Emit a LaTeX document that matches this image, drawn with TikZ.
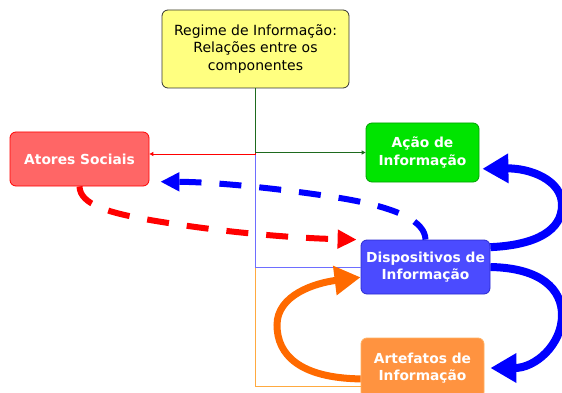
\documentclass[tikz,border=0pt]{standalone}
\usepackage{fontspec}
\setmainfont{DejaVu Sans}
\usetikzlibrary{arrows.meta}
\definecolor{regimefill}{HTML}{FFFF80}
\definecolor{atoresfill}{HTML}{FF6666}
\definecolor{acaofill}{HTML}{00E400}
\definecolor{acaoline}{HTML}{00A000}
\definecolor{dispfill}{HTML}{4B4BFF}
\definecolor{displine}{HTML}{2A2AD0}
\definecolor{artefill}{HTML}{FF9340}
\definecolor{arteline}{HTML}{FFB060}
\definecolor{greenlink}{HTML}{1E6A1E}
\definecolor{bluelink}{HTML}{6E6EFF}
\definecolor{orangelink}{HTML}{FFAA40}
\definecolor{orangearrow}{HTML}{FF6A00}
\begin{document}
\begin{tikzpicture}[x=1pt,y=-1pt,
  box/.style={rounded corners=6pt, align=center, inner sep=0pt, line width=0.8pt,
    text=white, font=\bfseries\fontsize{13.8}{17.5}\selectfont},
  link/.style={line width=1pt},
  smalltip/.style={-{Triangle[length=4pt,width=4pt]}},
  bigarrow/.style={line width=8pt, -{Triangle[length=26pt,width=28pt]}},
  dasharrow/.style={line width=6pt, dash pattern=on 22pt off 18pt, -{Triangle[length=19pt,width=18pt]}}]
\useasboundingbox (0,0) rectangle (562,393);
\node (regime) at (255.5,49) [box, draw=black!80, fill=regimefill, text=black, minimum width=187pt, minimum height=78pt, font=\fontsize{14}{17.5}\selectfont] {Regime de Informação:\\Relações entre os\\componentes};
\node (atores) at (79.5,159) [box, draw=red, fill=atoresfill, minimum width=139pt, minimum height=54pt] {Atores Sociais};
\node (acao) at (422.5,152.5) [box, draw=acaoline, fill=acaofill, minimum width=113pt, minimum height=59pt] {Ação de\\Informação};
\node (disp) at (425.5,267) [box, draw=displine, fill=dispfill, minimum width=129pt, minimum height=54pt] {Dispositivos de\\Informação};
\node (artef) at (422.5,368) [box, draw=arteline, fill=artefill, minimum width=123pt, minimum height=60pt] {Artefatos de\\Informação};
\draw[link, orangelink] (regime.south) |- ([yshift=-18pt]artef.west);
\draw[link, bluelink] (regime.south) |- (disp.west);
\draw[link, red, smalltip] (regime.south) |- ([yshift=5pt]atores.east);
\draw[link, greenlink, smalltip] (regime.south) |- (acao.west);
\draw[dasharrow, blue] (disp.north) .. controls (425,222) and (400,208) .. (340,198) .. controls (290,190) and (220,182) .. ([xshift=11pt]atores.-18);
\draw[dasharrow, red] (atores.south) .. controls (80,205) and (110,213) .. (150,220) .. controls (220,232) and (290,238) .. ([xshift=-4pt]disp.north west);
\draw[bigarrow, blue] (disp.17) .. controls (537,245) and (562,230) .. (562,205) .. controls (562,180) and (530,168) .. ([xshift=3pt]acao.-16);
\draw[bigarrow, blue] (disp.east) .. controls (542,268) and (562,290) .. (562,315) .. controls (562,345) and (535,368) .. ([xshift=6pt]artef.east);
\draw[bigarrow, line width=7pt, orangearrow] (artef.190) .. controls (300,378) and (277,355) .. (277,325) .. controls (277,295) and (315,283) .. (disp.189);
\end{tikzpicture}
\end{document}
